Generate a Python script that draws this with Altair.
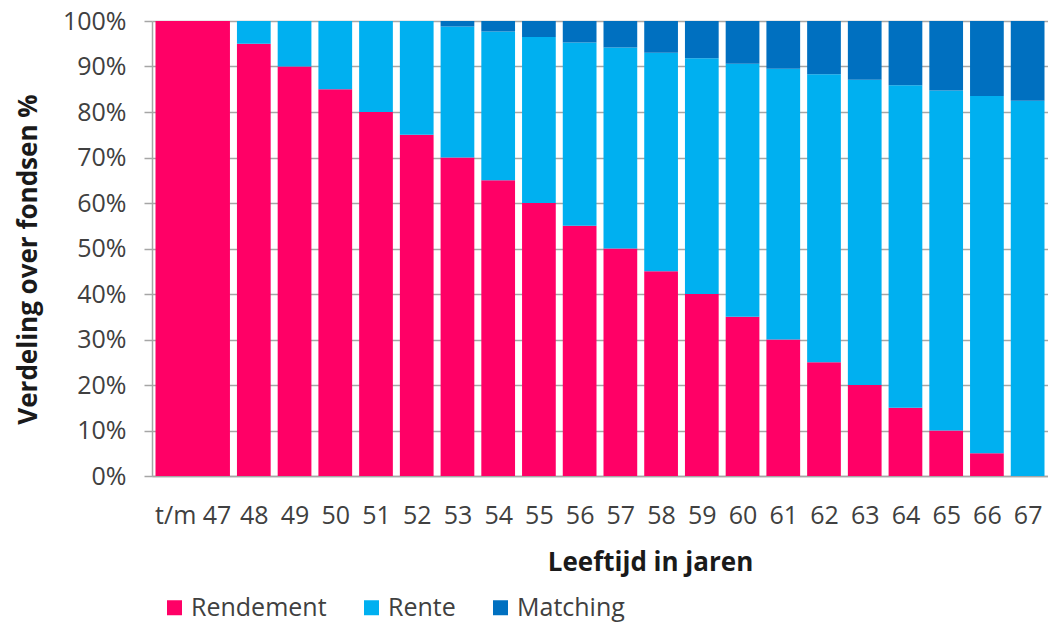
import altair as alt
import pandas as pd

# ---- data ----
categories = ["t/m 47", "48", "49", "50", "51", "52", "53", "54", "55", "56", "57",
              "58", "59", "60", "61", "62", "63", "64", "65", "66", "67"]
# number of age-slots each category covers ("t/m 47" covers two)
spans = [2] + [1] * 20
rendement = [100, 95, 90, 85, 80, 75, 70, 65, 60, 55, 50,
             45, 40, 35, 30, 25, 20, 15, 10, 5, 0]
matching = [0, 0, 0, 0, 0, 0, 1.2, 2.3, 3.5, 4.7, 5.8,
            7.0, 8.2, 9.4, 10.5, 11.7, 12.9, 14.1, 15.3, 16.5, 17.5]
rente = [round(100 - r - m, 1) for r, m in zip(rendement, matching)]

series = ["Rendement", "Rente", "Matching"]
colors = ["#FF0066", "#00B0F0", "#0070C0"]

# ---- build long table ----
starts, ends = [], []
pos = 0
for s in spans:
    starts.append(pos)
    pos += s
    ends.append(pos)
centers = [(a + b) / 2 for a, b in zip(starts, ends)]

rows = []
for i, c in enumerate(categories):
    for k, (name, vals) in enumerate(zip(series, [rendement, rente, matching])):
        rows.append({"cat": c, "xs": starts[i], "xe": ends[i], "series": name,
                     "order": k, "value": vals[i]})
df = pd.DataFrame(rows)

label_map = "{" + ",".join(f"'{c:g}':'{lab}'" for c, lab in zip(centers, categories)) + "}"

FONT = "Open Sans"

chart = alt.Chart(df).transform_stack(
    stack="value", groupby=["cat"], as_=["y0", "y1"],
    sort=[alt.SortField("order", order="ascending")]
).mark_bar(xOffset=3.5, x2Offset=-3.5).encode(
    x=alt.X("xs:Q", scale=alt.Scale(domain=[0, pos], nice=False, zero=False),
            axis=alt.Axis(values=centers, labelExpr=f"{label_map}[''+datum.value]",
                          ticks=False, grid=False, domainColor="#A6A6A6", domainWidth=1.5,
                          labelFont=FONT, labelFontSize=25, labelColor="#404040",
                          labelPadding=39, labelBaseline="middle",
                          title="Leeftijd in jaren", titleFont=FONT, titleFontSize=26,
                          titleFontWeight="bold", titleColor="#1a1a1a",
                          titleX=498, titleY=86, titleBaseline="middle", titleAlign="center")),
    x2="xe:Q",
    y=alt.Y("y0:Q", scale=alt.Scale(domain=[0, 100], nice=False),
            axis=alt.Axis(values=list(range(0, 101, 10)), labelExpr="datum.value + '%'",
                          grid=True, gridColor="#A6A6A6", gridWidth=1.5,
                          domainColor="#A6A6A6", domainWidth=1.5,
                          tickColor="#A6A6A6", tickSize=8, tickWidth=1.5,
                          labelFont=FONT, labelFontSize=25, labelColor="#404040",
                          labelPadding=18,
                          title="Verdeling over fondsen %", titleFont=FONT, titleFontSize=26,
                          titleFontWeight="bold", titleColor="#1a1a1a",
                          titleX=-124, titleY=238, titleAngle=-90,
                          titleBaseline="middle", titleAlign="center")),
    y2="y1:Q",
    color=alt.Color("series:N", scale=alt.Scale(domain=series, range=colors),
                    legend=alt.Legend(orient="none", legendX=10, legendY=574,
                                      direction="horizontal", title=None,
                                      symbolType="square", symbolSize=225,
                                      symbolStrokeWidth=0, symbolOpacity=1,
                                      labelFont=FONT, labelFontSize=25, labelColor="#404040",
                                      labelOffset=4, columnPadding=32, padding=0)),
    order=alt.Order("order:Q"),
).properties(
    width=896, height=455,
    autosize=alt.AutoSizeParams(type="none"),
    padding={"left": 144, "top": 13, "right": 0, "bottom": 148},
).configure_view(stroke=None)

chart.save("out.html", embed_options={"renderer": "svg", "actions": False})
